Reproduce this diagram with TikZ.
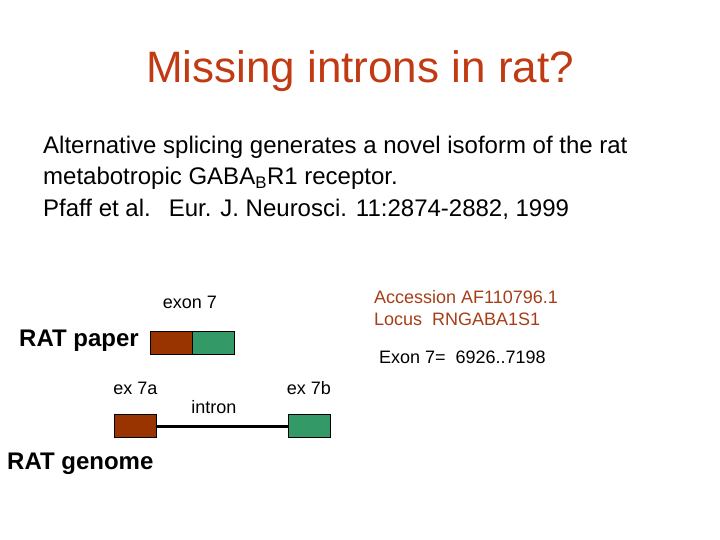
\documentclass[tikz,border=0pt]{standalone}
\usepackage{fontspec}
\setmainfont{Liberation Sans}
\usepackage{xcolor}
\usepackage{tikz}
\usetikzlibrary{shapes,arrows,positioning}
\definecolor{titlered}{RGB}{192, 58, 20}
\definecolor{accbrown}{RGB}{165, 62, 24}
\definecolor{exbrown}{RGB}{153, 51, 0}
\definecolor{exgreen}{RGB}{51, 153, 102}
\tikzstyle{title} = [text=titlered, anchor=base, inner sep=0pt, font=\fontsize{44}{52}\selectfont]
\tikzstyle{body} = [anchor=base west, inner sep=0pt, font=\fontsize{24}{29}\selectfont]
\tikzstyle{tag} = [anchor=base, inner sep=0pt, font=\fontsize{18}{22}\selectfont]
\tikzstyle{note} = [anchor=base west, inner sep=0pt, font=\fontsize{18}{22}\selectfont]
\tikzstyle{rat} = [anchor=base west, inner sep=0pt, font=\bfseries\fontsize{24}{29}\selectfont]
\tikzstyle{exon} = [rectangle, draw, line width=0.8pt, minimum width=42pt, minimum height=23pt, inner sep=0pt]
\tikzstyle{line} = [draw, line width=3pt]

\begin{document}
\begin{tikzpicture}[x=1pt, y=-1pt]
    \useasboundingbox (0,0) rectangle (720,540);
    \node [title] (head) at (360,83) {Missing introns in rat?};

    \node [body] (line1) at (43,154) {Alternative splicing generates a novel isoform of the rat};
    \node [body] (line2) at (43,185) {metabotropic GABA\textsubscript{B}R1 receptor.};
    \node [body] (line3) at (43,217) {Pfaff et al.\hspace{0.75em}Eur. J. Neurosci. 11:2874-2882, 1999};

    \node [exon, fill=exbrown] (paperA) at (171,343) {};
    \node [exon, fill=exgreen, right=0pt of paperA] (paperB) {};
    \node [tag] (exon7) at (190,308) {exon 7};
    \node [rat] (paper) at (19,346) {RAT paper};

    \node [note, text=accbrown] (acc) at (374,303) {Accession AF110796.1};
    \node [note, text=accbrown] (locus) at (374,325) {Locus\hspace{0.55em}RNGABA1S1};
    \node [note] (range) at (379,363) {Exon 7=\hspace{0.55em}6926..7198};

    \node [exon, fill=exbrown] (ex7a) at (135.5,426) {};
    \node [exon, fill=exgreen] (ex7b) at (309,426) {};
    \node [tag] (lbl7a) at (135.5,394) {ex 7a};
    \node [tag] (lbl7b) at (309,394) {ex 7b};
    \node [tag] (intron) at (214,413) {intron};
    \node [rat] (genome) at (7,469) {RAT genome};

    \path [line] (ex7a) -- (ex7b);
\end{tikzpicture}
\end{document}
